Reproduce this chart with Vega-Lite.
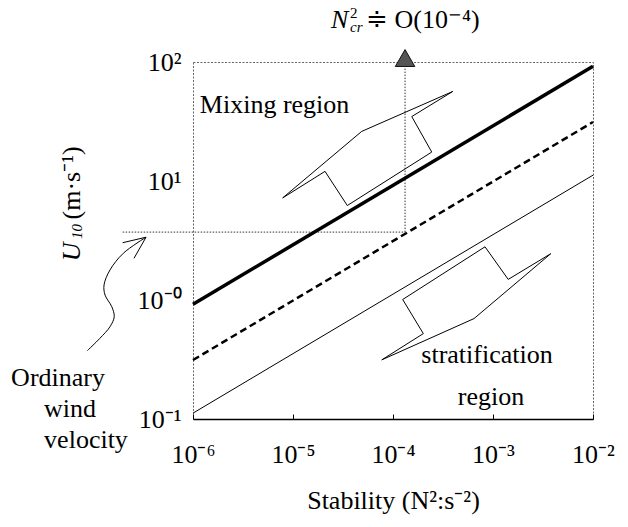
{
  "$schema": "https://vega.github.io/schema/vega-lite/v6.json",
  "width": 400,
  "height": 357,
  "autosize": {"type": "none"},
  "padding": {"left": 193, "top": 62, "right": 35, "bottom": 108},
  "background": "white",
  "config": {
    "font": "Liberation Serif, Times New Roman, serif",
    "view": {"stroke": "#666", "strokeDash": [2, 1.5], "strokeWidth": 1},
    "text": {"font": "Liberation Serif, Times New Roman, serif", "color": "black"}
  },
  "datasets": {
    "lines": [
      {"series": "thick", "x": 1e-6, "y": 0.92},
      {"series": "thick", "x": 1e-2, "y": 92},
      {"series": "dashed", "x": 1e-6, "y": 0.313},
      {"series": "dashed", "x": 1e-2, "y": 31.3},
      {"series": "thin", "x": 1e-6, "y": 0.112},
      {"series": "thin", "x": 1e-2, "y": 11.2}
    ],
    "refs": [
      {"id": "h", "x": 1.98e-7, "y": 3.72},
      {"id": "h", "x": 1.32e-4, "y": 3.72},
      {"id": "v", "x": 1.32e-4, "y": 3.72},
      {"id": "v", "x": 1.32e-4, "y": 104}
    ],
    "marker": [{"x": 1.32e-4, "y": 108}],
    "polys": [
      {"id": "mix", "i": 1, "x": 7.89e-6, "y": 7.21},
      {"id": "mix", "i": 2, "x": 2.09e-5, "y": 12.05},
      {"id": "mix", "i": 3, "x": 3.49e-5, "y": 6.22},
      {"id": "mix", "i": 4, "x": 2.44e-4, "y": 17.5},
      {"id": "mix", "i": 5, "x": 1.54e-4, "y": 34.8},
      {"id": "mix", "i": 6, "x": 3.95e-4, "y": 56.5},
      {"id": "mix", "i": 7, "x": 4.86e-5, "y": 26.1},
      {"id": "mix", "i": 8, "x": 7.89e-6, "y": 7.21},
      {"id": "strat", "i": 1, "x": 7.72e-5, "y": 0.314},
      {"id": "strat", "i": 2, "x": 2.01e-4, "y": 0.522},
      {"id": "strat", "i": 3, "x": 1.25e-4, "y": 1.01},
      {"id": "strat", "i": 4, "x": 8.32e-4, "y": 2.8},
      {"id": "strat", "i": 5, "x": 1.42e-3, "y": 1.49},
      {"id": "strat", "i": 6, "x": 3.78e-3, "y": 2.45},
      {"id": "strat", "i": 7, "x": 6.46e-4, "y": 0.698},
      {"id": "strat", "i": 8, "x": 7.72e-5, "y": 0.314},
      {"id": "head", "i": 1, "x": 1.98e-7, "y": 3.03},
      {"id": "head", "i": 2, "x": 3.39e-7, "y": 3.37},
      {"id": "head", "i": 3, "x": 2.57e-7, "y": 2.24}
    ],
    "wind": [
      {"i": 1, "x": 3.39e-7, "y": 3.37},
      {"i": 2, "x": 2.01e-7, "y": 2.47},
      {"i": 3, "x": 1.48e-7, "y": 1.79},
      {"i": 4, "x": 1.29e-7, "y": 1.34},
      {"i": 5, "x": 1.32e-7, "y": 1.1},
      {"i": 6, "x": 1.54e-7, "y": 0.879},
      {"i": 7, "x": 1.63e-7, "y": 0.724},
      {"i": 8, "x": 1.48e-7, "y": 0.597},
      {"i": 9, "x": 1.17e-7, "y": 0.476},
      {"i": 10, "x": 8.77e-8, "y": 0.375}
    ],
    "texts": [
      {"kind": "center", "text": "stratification", "x": 8.71e-4, "y": 0.296},
      {"kind": "center", "text": "region", "x": 9.55e-4, "y": 0.131},
      {"kind": "center", "text": "Ordinary", "x": 4.47e-8, "y": 0.189},
      {"kind": "center", "text": "wind", "x": 5.89e-8, "y": 0.104},
      {"kind": "center", "text": "velocity", "x": 8.51e-8, "y": 0.057},
      {"kind": "left", "text": "Mixing region", "x": 1.17e-6, "y": 37.2},
      {"kind": "left", "text": "≑ O(10⁻⁴)", "x": 5.37e-5, "y": 193},
      {"kind": "leftItalic", "text": "N", "x": 2.4e-5, "y": 193},
      {"kind": "sup", "text": "2", "x": 3.72e-5, "y": 236},
      {"kind": "sub", "text": "cr", "x": 3.72e-5, "y": 178},
      {"kind": "rotItalic", "text": "U", "x": 7.41e-8, "y": 2.12},
      {"kind": "rotSub", "text": "10", "x": 7.76e-8, "y": 3.25},
      {"kind": "rot", "text": "(m·s⁻¹)", "x": 7.41e-8, "y": 4.75}
    ]
  },
  "encoding": {
    "x": {
      "field": "x",
      "type": "quantitative",
      "scale": {"type": "log", "domain": [1e-6, 1e-2], "nice": false},
      "title": "Stability (N²:s⁻²)",
      "axis": {
        "values": [1e-6, 1e-5, 1e-4, 1e-3, 1e-2],
        "labelExpr": "datum.value < 5e-6 ? '10⁻⁶' : datum.value < 5e-5 ? '10⁻⁵' : datum.value < 5e-4 ? '10⁻⁴' : datum.value < 5e-3 ? '10⁻³' : '10⁻²'",
        "labelFont": "Liberation Serif, Times New Roman, serif",
        "labelFontSize": 26,
        "labelColor": "black",
        "labelPadding": 27,
        "labelFlush": false,
        "labelOverlap": false,
        "tickSize": -5,
        "tickColor": "black",
        "domainColor": "black",
        "domainWidth": 1.5,
        "grid": false,
        "titleFont": "Liberation Serif, Times New Roman, serif",
        "titleFontSize": 26,
        "titleFontWeight": "normal",
        "titleColor": "black",
        "titlePadding": 20
      }
    },
    "y": {
      "field": "y",
      "type": "quantitative",
      "scale": {"type": "log", "domain": [0.1, 100], "nice": false},
      "title": null,
      "axis": {
        "values": [0.1, 1, 10, 100],
        "labelExpr": "datum.value < 0.5 ? '10⁻¹' : datum.value < 5 ? '10⁻⁰' : datum.value < 50 ? '10¹' : '10²'",
        "labelFont": "Liberation Serif, Times New Roman, serif",
        "labelFontSize": 26,
        "labelColor": "black",
        "labelPadding": 12,
        "labelFlush": false,
        "labelOverlap": false,
        "ticks": false,
        "domain": false,
        "grid": false
      }
    }
  },
  "layer": [
    {
      "data": {"name": "refs"},
      "mark": {"type": "line", "color": "#333", "strokeWidth": 1, "strokeDash": [1.5, 1.5]},
      "encoding": {"detail": {"field": "id"}}
    },
    {
      "data": {"name": "lines"},
      "transform": [{"filter": "datum.series == 'thick'"}],
      "mark": {"type": "line", "color": "black", "strokeWidth": 3.5},
      "encoding": {}
    },
    {
      "data": {"name": "lines"},
      "transform": [{"filter": "datum.series == 'dashed'"}],
      "mark": {"type": "line", "color": "black", "strokeWidth": 2.5, "strokeDash": [7, 4]},
      "encoding": {}
    },
    {
      "data": {"name": "lines"},
      "transform": [{"filter": "datum.series == 'thin'"}],
      "mark": {"type": "line", "color": "black", "strokeWidth": 1},
      "encoding": {}
    },
    {
      "data": {"name": "polys"},
      "mark": {"type": "line", "color": "black", "strokeWidth": 1},
      "encoding": {"detail": {"field": "id"}, "order": {"field": "i", "type": "quantitative"}}
    },
    {
      "data": {"name": "wind"},
      "mark": {"type": "line", "color": "black", "strokeWidth": 1, "interpolate": "catmull-rom"},
      "encoding": {"order": {"field": "i", "type": "quantitative"}}
    },
    {
      "data": {"name": "marker"},
      "mark": {"type": "point", "shape": "triangle-up", "filled": true, "fill": "#555", "stroke": "#111", "strokeWidth": 1, "size": 380, "opacity": 1},
      "encoding": {}
    },
    {
      "data": {"name": "texts"},
      "transform": [{"filter": "datum.kind == 'center'"}],
      "mark": {"type": "text", "fontSize": 26, "align": "center", "baseline": "alphabetic"},
      "encoding": {"text": {"field": "text"}}
    },
    {
      "data": {"name": "texts"},
      "transform": [{"filter": "datum.kind == 'left'"}],
      "mark": {"type": "text", "fontSize": 26, "align": "left", "baseline": "alphabetic"},
      "encoding": {"text": {"field": "text"}}
    },
    {
      "data": {"name": "texts"},
      "transform": [{"filter": "datum.kind == 'leftItalic'"}],
      "mark": {"type": "text", "fontSize": 26, "fontStyle": "italic", "align": "left", "baseline": "alphabetic"},
      "encoding": {"text": {"field": "text"}}
    },
    {
      "data": {"name": "texts"},
      "transform": [{"filter": "datum.kind == 'sup'"}],
      "mark": {"type": "text", "fontSize": 15, "align": "left", "baseline": "alphabetic"},
      "encoding": {"text": {"field": "text"}}
    },
    {
      "data": {"name": "texts"},
      "transform": [{"filter": "datum.kind == 'sub'"}],
      "mark": {"type": "text", "fontSize": 15, "fontStyle": "italic", "align": "left", "baseline": "alphabetic"},
      "encoding": {"text": {"field": "text"}}
    },
    {
      "data": {"name": "texts"},
      "transform": [{"filter": "datum.kind == 'rotItalic'"}],
      "mark": {"type": "text", "fontSize": 26, "fontStyle": "italic", "align": "left", "baseline": "alphabetic", "angle": 270},
      "encoding": {"text": {"field": "text"}}
    },
    {
      "data": {"name": "texts"},
      "transform": [{"filter": "datum.kind == 'rotSub'"}],
      "mark": {"type": "text", "fontSize": 15, "fontStyle": "italic", "align": "left", "baseline": "alphabetic", "angle": 270},
      "encoding": {"text": {"field": "text"}}
    },
    {
      "data": {"name": "texts"},
      "transform": [{"filter": "datum.kind == 'rot'"}],
      "mark": {"type": "text", "fontSize": 26, "align": "left", "baseline": "alphabetic", "angle": 270},
      "encoding": {"text": {"field": "text"}}
    }
  ]
}
